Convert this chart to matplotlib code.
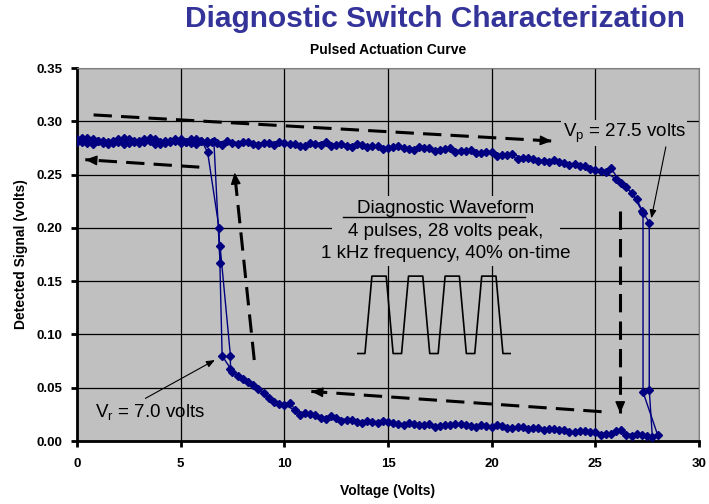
import numpy as np
import matplotlib
matplotlib.use("Agg")
import matplotlib.pyplot as plt
from matplotlib.patches import Rectangle

plt.rcParams['font.family'] = ['Liberation Sans', 'DejaVu Sans']
plt.rcParams['axes.unicode_minus'] = False

# ---------------- data ----------------
# sweep A, rising voltage (switch open, high signal)
a_up_v = [0.0, 0.5, 1.0, 1.5, 2.0, 2.5, 3.0, 3.5, 4.0, 4.5, 5.0, 5.5, 6.0, 6.5,
          7.0, 7.5, 8.0, 8.5, 9.0, 9.5, 10.0, 10.5, 11.0, 11.5, 12.0, 12.5, 13.0,
          13.5, 14.0, 14.5, 15.0, 15.5, 16.0, 16.5, 17.0, 17.5, 18.0, 18.5, 19.0,
          19.5, 20.0, 20.5, 21.0, 21.5, 22.0, 22.5, 23.0, 23.5, 24.0, 24.5, 25.0,
          25.5, 26.0, 26.5, 27.0, 27.3, 27.3, 28.0]
a_up_s = [0.283, 0.280, 0.282, 0.281, 0.283, 0.280, 0.282, 0.284, 0.281, 0.282,
          0.280, 0.283, 0.282, 0.281, 0.278, 0.280, 0.281, 0.279, 0.280, 0.278,
          0.280, 0.279, 0.277, 0.279, 0.281, 0.278, 0.277, 0.279, 0.276, 0.277,
          0.275, 0.277, 0.274, 0.276, 0.275, 0.273, 0.275, 0.272, 0.273, 0.270,
          0.271, 0.268, 0.269, 0.266, 0.265, 0.263, 0.264, 0.261, 0.260, 0.258,
          0.254, 0.252, 0.246, 0.238, 0.227, 0.214, 0.046, 0.006]
# sweep A, falling voltage (switch closed, low signal, then release)
a_dn_v = [27.5, 27.0, 26.5, 26.0, 25.5, 25.0, 24.5, 24.0, 23.5, 23.0, 22.5, 22.0,
          21.5, 21.0, 20.5, 20.0, 19.5, 19.0, 18.5, 18.0, 17.5, 17.0, 16.5, 16.0,
          15.5, 15.0, 14.5, 14.0, 13.5, 13.0, 12.5, 12.0, 11.5, 11.0, 10.5, 10.0,
          9.5, 9.0, 8.5, 8.0, 7.5, 7.0, 6.85, 6.3, 6.0, 5.5, 5.0, 4.5, 4.0, 3.5,
          3.0, 2.5, 2.0, 1.5, 1.0, 0.5, 0.0]
a_dn_s = [0.005, 0.007, 0.006, 0.009, 0.007, 0.008, 0.009, 0.008, 0.010, 0.011,
          0.010, 0.012, 0.013, 0.012, 0.014, 0.013, 0.015, 0.014, 0.016, 0.015,
          0.014, 0.016, 0.015, 0.017, 0.016, 0.018, 0.017, 0.019, 0.018, 0.020,
          0.022, 0.021, 0.024, 0.026, 0.029, 0.034, 0.037, 0.045, 0.053, 0.058,
          0.065, 0.080, 0.200, 0.271, 0.282, 0.280, 0.283, 0.281, 0.279, 0.282,
          0.280, 0.283, 0.281, 0.279, 0.282, 0.284, 0.281]

# sweep B, rising voltage
b_up_v = [0.25, 0.75, 1.25, 1.75, 2.25, 2.75, 3.25, 3.75, 4.25, 4.75, 5.25, 5.75,
          6.25, 6.75, 7.25, 7.75, 8.25, 8.75, 9.25, 9.75, 10.25, 10.75, 11.25,
          11.75, 12.25, 12.75, 13.25, 13.75, 14.25, 14.75, 15.25, 15.75, 16.25,
          16.75, 17.25, 17.75, 18.25, 18.75, 19.25, 19.75, 20.25, 20.75, 21.25,
          21.75, 22.25, 22.75, 23.25, 23.75, 24.25, 24.75, 25.25, 25.75, 26.25,
          26.75, 27.25, 27.6, 27.6, 27.75]
b_up_s = [0.281, 0.283, 0.280, 0.282, 0.279, 0.282, 0.281, 0.283, 0.280, 0.282,
          0.281, 0.279, 0.282, 0.280, 0.282, 0.279, 0.281, 0.278, 0.280, 0.281,
          0.279, 0.277, 0.280, 0.278, 0.277, 0.279, 0.276, 0.278, 0.277, 0.274,
          0.276, 0.275, 0.273, 0.275, 0.272, 0.274, 0.271, 0.272, 0.270, 0.271,
          0.267, 0.268, 0.265, 0.266, 0.263, 0.262, 0.262, 0.259, 0.258, 0.255,
          0.253, 0.256, 0.242, 0.233, 0.216, 0.205, 0.048, 0.004]
# sweep B, falling voltage
b_dn_v = [27.25, 26.75, 26.25, 25.75, 25.25, 24.75, 24.25, 23.75, 23.25, 22.75,
          22.25, 21.75, 21.25, 20.75, 20.25, 19.75, 19.25, 18.75, 18.25, 17.75,
          17.25, 16.75, 16.25, 15.75, 15.25, 14.75, 14.25, 13.75, 13.25, 12.75,
          12.25, 11.75, 11.25, 10.75, 10.25, 9.75, 9.25, 8.75, 8.25, 7.75, 7.4,
          7.4, 6.9, 6.9, 6.6, 6.25, 5.75, 5.25, 4.75, 4.25, 3.75, 3.25, 2.75,
          2.25, 1.75, 1.25, 0.75, 0.25]
b_dn_s = [0.006, 0.005, 0.010, 0.007, 0.006, 0.008, 0.009, 0.008, 0.010, 0.011,
          0.012, 0.011, 0.013, 0.012, 0.015, 0.014, 0.013, 0.015, 0.016, 0.015,
          0.013, 0.015, 0.016, 0.015, 0.017, 0.019, 0.018, 0.017, 0.020, 0.019,
          0.023, 0.022, 0.025, 0.024, 0.036, 0.035, 0.040, 0.049, 0.055, 0.061,
          0.068, 0.080, 0.183, 0.167, 0.282, 0.280, 0.283, 0.281, 0.283, 0.282,
          0.279, 0.283, 0.281, 0.284, 0.280, 0.282, 0.279, 0.284]

# diagnostic waveform sketch (time in ms, level 0/1)
wave_t = [-0.22, 0.0, 0.19, 0.58, 0.77, 1.0, 1.19, 1.58, 1.77, 2.0, 2.19, 2.58,
          2.77, 3.0, 3.19, 3.58, 3.77, 4.0]
wave_l = [0, 0, 1, 1, 0, 0, 1, 1, 0, 0, 1, 1, 0, 0, 1, 1, 0, 0]

NAVY = '#000080'
GRAY = '#c0c0c0'

fig = plt.figure(figsize=(7.09, 5.04), dpi=100)
ax = fig.add_axes([0.1086, 0.125, 0.8773, 0.740])
ax.set_facecolor(GRAY)

for v, s in [(a_up_v, a_up_s), (a_dn_v, a_dn_s), (b_up_v, b_up_s), (b_dn_v, b_dn_s)]:
    ax.plot(v, s, color=NAVY, lw=1.0, marker='D', ms=4, zorder=4)

ax.set_xlim(0, 30)
ax.set_ylim(0, 0.35)
ax.set_xticks(np.arange(0, 31, 5))
ax.set_yticks(np.arange(0, 0.351, 0.05))
ax.yaxis.set_major_formatter(matplotlib.ticker.FormatStrFormatter('%.2f'))
ax.grid(True, color='black', lw=0.9)
ax.set_axisbelow(True)
for t in ax.get_xticklabels() + ax.get_yticklabels():
    t.set_fontweight('bold')
ax.tick_params(labelsize=9.5, width=2, length=4, direction='out')
ax.tick_params(axis='x', pad=8)
ax.tick_params(axis='y', pad=6.5)
ax.spines['left'].set_linewidth(2)
ax.spines['bottom'].set_linewidth(2)
for sp in ('top', 'right'):
    ax.spines[sp].set_color('#808080')
    ax.spines[sp].set_linewidth(0.8)

ax.set_xlabel('Voltage (Volts)', fontsize=10, fontweight='bold', labelpad=10)
ax.set_ylabel('Detected Signal (volts)', fontsize=10, fontweight='bold', labelpad=6)
ax.set_title('Pulsed Actuation Curve', fontsize=10, fontweight='bold', pad=10)
fig.text(0.614, 0.962, 'Diagnostic Switch Characterization', ha='center', va='center',
         fontsize=21.5, fontweight='bold', color='#333399')

# dashed sweep-direction arrows
def dashed_arrow(start, end):
    ax.plot([start[0], end[0]], [start[1], end[1]], color='black', lw=2.2,
            ls=(0, (6, 3)), solid_capstyle='butt', zorder=5)
    near = (end[0] - 0.03 * (end[0] - start[0]), end[1] - 0.03 * (end[1] - start[1]))
    ax.annotate('', xy=end, xytext=near,
                arrowprops=dict(arrowstyle='-|>,head_length=0.7,head_width=0.3',
                                color='black', lw=1, shrinkA=0, shrinkB=0), zorder=6)

dashed_arrow((0.8, 0.306), (22.9, 0.2815))
dashed_arrow((5.9, 0.257), (0.4, 0.264))
dashed_arrow((8.55, 0.076), (7.6, 0.252))
dashed_arrow((25.3, 0.0275), (11.3, 0.0465))
dashed_arrow((26.2, 0.216), (26.2, 0.026))

# labels for pull-in / release voltages
ax.text(26.4, 0.289, r'V$_\mathregular{p}$ = 27.5 volts', fontsize=13.5, ha='center',
        va='center', bbox=dict(facecolor=GRAY, edgecolor='none', pad=1), zorder=6)
ax.annotate('', xy=(27.7, 0.209), xytext=(28.4, 0.276),
            arrowprops=dict(arrowstyle='-|>,head_length=0.5,head_width=0.2',
                            color='black', lw=0.8, shrinkA=0, shrinkB=0), zorder=6)
ax.text(3.5, 0.026, r'V$_\mathregular{r}$ = 7.0 volts', fontsize=13.5, ha='center',
        va='center', zorder=6)
ax.annotate('', xy=(6.65, 0.076), xytext=(3.3, 0.040),
            arrowprops=dict(arrowstyle='-|>,head_length=0.5,head_width=0.2',
                            color='black', lw=0.8, shrinkA=0, shrinkB=0), zorder=6)

# waveform description
ax.add_patch(Rectangle((12.3, 0.164), 11.0, 0.066, facecolor=GRAY, edgecolor='none', zorder=3))
ax.text(17.8, 0.2186, 'Diagnostic Waveform', fontsize=13.5, ha='center', va='center', zorder=6)
ax.plot([12.85, 21.6], [0.2105, 0.2105], color='black', lw=1, zorder=6)
ax.text(17.8, 0.1965, '4 pulses, 28 volts peak,', fontsize=13.5, ha='center', va='center', zorder=6)
ax.text(17.8, 0.1755, '1 kHz frequency, 40% on-time', fontsize=13.5, ha='center', va='center', zorder=6)

ins = ax.inset_axes([13.5, 0.077, 7.45, 0.085], transform=ax.transData)
ins.set_facecolor(GRAY)
ins.plot(wave_t, wave_l, color='black', lw=1.2)
ins.set_xlim(-0.22, 4.0)
ins.set_ylim(-0.07, 1.1)
ins.axis('off')
ins.patch.set_visible(True)

fig.savefig('out.png', dpi=100)
